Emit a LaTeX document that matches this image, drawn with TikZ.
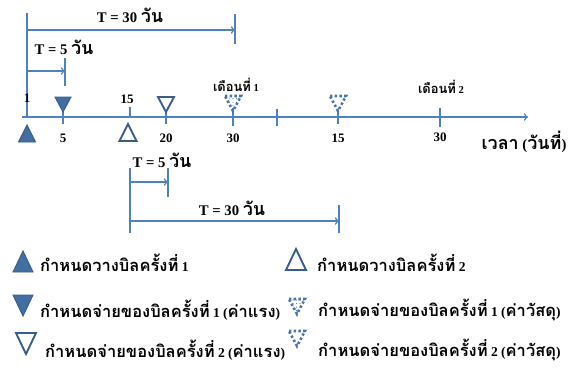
\documentclass[tikz,border=0pt]{standalone}
\usepackage{fontspec}
\setmainfont{Liberation Serif}
\newfontfamily\thaifont[Script=Thai,Scale=1.22]{Loma}
\newcommand{\thai}[1]{{\thaifont #1}}
\usetikzlibrary{patterns}
\definecolor{lineblue}{RGB}{79,129,189}
\definecolor{edgeblue}{RGB}{56,93,138}

\tikzset{
  blueline/.style={draw=lineblue, line width=1.3pt},
  num/.style={font=\bfseries\fontsize{11}{13}\selectfont, inner sep=1pt},
  month/.style={font=\bfseries\fontsize{9}{11}\selectfont, inner sep=1pt},
  span/.style={font=\bfseries\fontsize{12.5}{14}\selectfont, inner sep=1pt},
  legend/.style={font=\bfseries\fontsize{11.5}{13}\selectfont, anchor=west, inner sep=0pt},
  tri up/.pic={\path[pic actions] (-8.5,0) -- (8.5,0) -- (0,-17) -- cycle;},
  tri down/.pic={\path[pic actions] (-8,0) -- (8,0) -- (0,15) -- cycle;},
  big up/.pic={\path[pic actions] (-10,0) -- (10,0) -- (0,-21) -- cycle;},
  big down/.pic={\path[pic actions] (-10,0) -- (10,0) -- (0,21) -- cycle;},
  solidtri/.style={fill=lineblue!85!black, draw=edgeblue, line width=0.8pt},
  opentri/.style={draw=edgeblue, line width=1.6pt, line join=miter},
  dottri/.style={draw=lineblue!90!black, line width=2.2pt, dash pattern=on 2pt off 2pt}
}

\begin{document}
\begin{tikzpicture}[x=0.85pt, y=-0.85pt]
\useasboundingbox (0,0) rectangle (568,367);

% time axis
\coordinate (start) at (22,117);
\coordinate (end) at (528,117);
\draw[blueline,->] (start) -- (end);
\node[span] (timelbl) at (524,142) {\thai{เวลา} (\thai{วันที่})};

% day 1 and the spans starting from it
\coordinate (d1top) at (27,13);
\coordinate (d1) at (27,117);
\draw[blueline] (d1top) -- (d1);
\coordinate (a30) at (27,30);
\coordinate (b30) at (235,30);
\draw[blueline,->] (a30) -- (b30);
\draw[blueline] (235,14) -- (235,44);
\node[span] (t30a) at (130,15) {T = 30 \thai{วัน}};
\coordinate (a5) at (27,71);
\coordinate (b5) at (65,71);
\draw[blueline,->] (a5) -- (b5);
\draw[blueline] (65,58) -- (65,86);
\node[span] (t5a) at (64,47) {T = 5 \thai{วัน}};

% ticks on the axis
\draw[blueline] (63,110) -- (63,124);
\draw[blueline] (130,107) -- (130,118);
\draw[blueline] (166,110) -- (166,124);
\draw[blueline] (233,108) -- (233,126);
\draw[blueline] (277,109) -- (277,126);
\draw[blueline] (338,110) -- (338,124);
\draw[blueline] (440,108) -- (440,127);

% day labels
\node[num] (n1) at (27,98) {1};
\node[num] (n5) at (63,138) {5};
\node[num] (n15) at (127,99) {15};
\node[num] (n20) at (166,138) {20};
\node[num] (n30) at (233,138) {30};
\node[num] (n15b) at (338,138) {15};
\node[num] (n30b) at (440,137) {30};
\node[month] (m1) at (236,85) {\thai{เดือนที่} 1};
\node[month] (m2) at (441,87) {\thai{เดือนที่} 2};

% markers
\pic[solidtri] at (27,142) {tri up};
\pic[solidtri] at (63,97) {tri down};
\pic[opentri] at (128,141) {tri up};
\pic[opentri] at (166,97) {tri down};
\pic[dottri, pattern=dots, pattern color=lineblue] at (233,96) {tri down};
\pic[dottri] at (338,96) {tri down};

% spans from day 15
\coordinate (c1top) at (130,168);
\coordinate (c1) at (130,233);
\draw[blueline] (c1top) -- (c1);
\coordinate (a5b) at (130,182);
\coordinate (b5b) at (168,182);
\draw[blueline,->] (a5b) -- (b5b);
\draw[blueline] (168,168) -- (168,197);
\node[span] (t5b) at (162,160) {T = 5 \thai{วัน}};
\coordinate (a30b) at (130,221);
\coordinate (b30b) at (339,221);
\draw[blueline,->] (a30b) -- (b30b);
\draw[blueline] (339,205) -- (339,233);
\node[span] (t30b) at (232,208) {T = 30 \thai{วัน}};

% legend
\pic[solidtri] at (23,272) {big up};
\node[legend] (lg1) at (40,263) {\thai{กำหนดวางบิลครั้งที่} 1};
\pic[solidtri] at (23,295) {big down};
\node[legend] (lg2) at (40,310) {\thai{กำหนดจ่ายของบิลครั้งที่} 1 (\thai{ค่าแรง})};
\pic[opentri] at (26,333) {big down};
\node[legend] (lg3) at (45,350) {\thai{กำหนดจ่ายของบิลครั้งที่} 2 (\thai{ค่าแรง})};
\pic[opentri] at (296,270) {big up};
\node[legend] (lg4) at (317,263) {\thai{กำหนดวางบิลครั้งที่} 2};
\pic[dottri, pattern=dots, pattern color=lineblue] at (297,299) {tri down};
\node[legend] (lg5) at (318,310) {\thai{กำหนดจ่ายของบิลครั้งที่} 1 (\thai{ค่าวัสดุ})};
\pic[dottri] at (297,331) {tri down};
\node[legend] (lg6) at (318,350) {\thai{กำหนดจ่ายของบิลครั้งที่} 2 (\thai{ค่าวัสดุ})};
\end{tikzpicture}
\end{document}
